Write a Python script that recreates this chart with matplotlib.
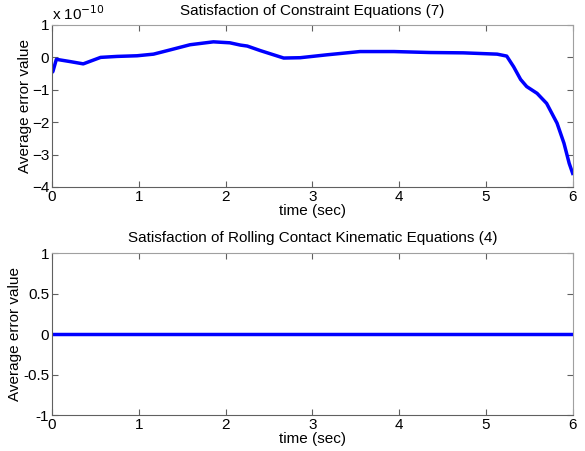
import matplotlib.pyplot as plt
import numpy as np
import matplotlib as mpl

mpl.rcParams.update({'font.size': 11, 'font.family': 'Liberation Sans'})

# top panel: constraint error (units of 1e-10)
t_top = [0.0, 0.01, 0.05, 0.21, 0.36, 0.46, 0.56, 0.75, 0.98, 1.17, 1.36, 1.59, 1.86,
         2.05, 2.17, 2.25, 2.40, 2.67, 2.86, 3.17, 3.55, 3.94, 4.36, 4.74, 5.13, 5.24,
         5.32, 5.40, 5.47, 5.59, 5.70, 5.82, 5.90, 5.96, 6.0]
err_top = [-0.46, -0.44, -0.06, -0.13, -0.2, -0.1, 0.0, 0.03, 0.05, 0.1, 0.23, 0.39,
           0.48, 0.45, 0.38, 0.35, 0.21, -0.02, -0.01, 0.08, 0.18, 0.18, 0.15, 0.14,
           0.1, 0.04, -0.29, -0.68, -0.9, -1.11, -1.42, -2.03, -2.65, -3.27, -3.58]

# bottom panel: rolling contact error
t_bot = [0.0, 6.0]
err_bot = [0.0, 0.0]

top_ticks = [-4, -3, -2, -1, 0, 1]
bot_ticks = [-1, -0.5, 0, 0.5, 1]
bot_labels = ['-1', '-0.5', '0', '0.5', '1']

fig = plt.figure(figsize=(5.85, 4.51), dpi=100)
ax1 = fig.add_axes([0.0889, 0.5854, 0.890, 0.3592])
ax2 = fig.add_axes([0.0889, 0.0798, 0.890, 0.3585])


def style(ax):
    ax.tick_params(direction='in', top=True, right=True, length=4, width=0.8,
                   color='#606060', pad=2, labelsize=11)
    for s in ['left', 'bottom']:
        ax.spines[s].set_color('#606060')
    for s in ['top', 'right']:
        ax.spines[s].set_color('#a0a0a0')
    ax.set_xlim(0, 6)
    ax.set_xticks(range(7))


ax1.plot(t_top, err_top, color='#0000ff', lw=2.5)
style(ax1)
ax1.set_ylim(-4, 1)
ax1.set_yticks(top_ticks)
ax1.set_xlabel('time (sec)', labelpad=0)
ax1.set_ylabel('Average error value', labelpad=0)
ax1.set_title('Satisfaction of Constraint Equations (7)', fontsize=11, pad=7)
ax1.text(0.0, 1.01, r'x 10$^{\mathsf{-10}}$', transform=ax1.transAxes, fontsize=11,
         ha='left', va='bottom')

ax2.plot(t_bot, err_bot, color='#0000ff', lw=2.5)
style(ax2)
ax2.set_ylim(-1, 1)
ax2.set_yticks(bot_ticks)
ax2.set_yticklabels(bot_labels)
ax2.set_xlabel('time (sec)', labelpad=0)
ax2.set_ylabel('Average error value', labelpad=1)
ax2.set_title('Satisfaction of Rolling Contact Kinematic Equations (4)', fontsize=11, pad=8)

plt.savefig('out.png', dpi=100)
